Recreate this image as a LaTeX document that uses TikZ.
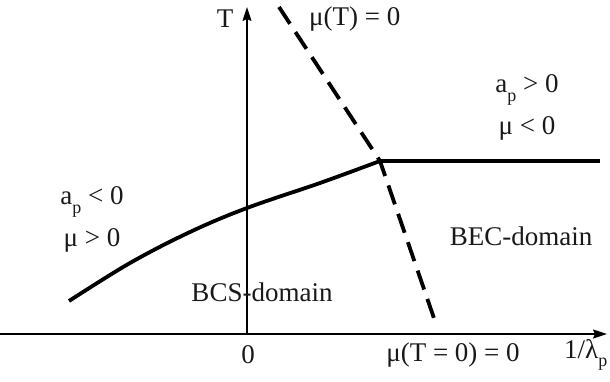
\documentclass[tikz,border=0pt]{standalone}
\usepackage{fontspec}
\setmainfont{Liberation Serif}
\usetikzlibrary{arrows.meta}
\newcommand{\subp}{\raisebox{-0.32em}{\fontsize{18}{18}\selectfont p}}
\begin{document}
\begin{tikzpicture}[x=1pt,y=-1pt,
  lbl/.style={inner sep=0pt, font=\fontsize{27}{30}\selectfont, text=black!90},
  axis/.style={line width=1.4pt, -{Stealth[length=14pt,width=9pt,inset=2pt]}},
  curve/.style={line width=3.8pt},
  dcurve/.style={line width=3.8pt, dash pattern=on 20pt off 10pt}]
\useasboundingbox (0,0) rectangle (610,381);
% axes
\coordinate (xs) at (0,334);
\coordinate (xe) at (607,334);
\coordinate (ys) at (247,334);
\coordinate (ye) at (247,7);
\draw[axis] (xs) -- (xe);
\draw[axis] (ys) -- (ye);
% solid curve
\coordinate (c0) at (69,301);
\coordinate (J) at (380,161);
\coordinate (c9) at (600,161);
\draw[curve] plot[smooth, tension=0.6] coordinates {(69,301) (130,263) (190,232) (247,208) (320,183) (380,161)};
\draw[curve] (J) -- (c9);
% dashed line
\coordinate (d0) at (279,7);
\coordinate (d1) at (437,327);
\draw[dcurve] (d0) -- (J) -- (d1);
% labels
\node[lbl] (T) at (225,19) {T};
\node[lbl, anchor=west] (muT) at (309,19) {μ(T) = 0};
\node[lbl] (ap1) at (527,90) {a\subp{} > 0};
\node[lbl] (mu1) at (527,128) {μ < 0};
\node[lbl] (ap2) at (92,202) {a\subp{} < 0};
\node[lbl] (mu2) at (92,240) {μ > 0};
\node[lbl] (bec) at (521,236) {BEC-domain};
\node[lbl] (bcs) at (262,292) {BCS-domain};
\node[lbl] (zero) at (248,355) {0};
\node[lbl] (mu0) at (453,355) {μ(T = 0) = 0};
\node[lbl, anchor=west] (lam) at (564,355) {1/λ\subp};
\end{tikzpicture}
\end{document}
